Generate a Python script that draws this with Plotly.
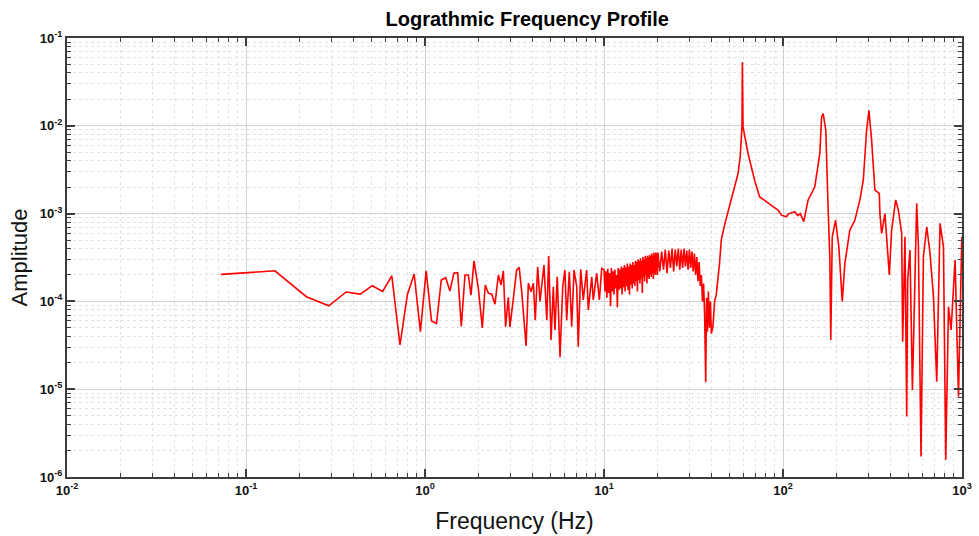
import plotly.graph_objects as go

# ---------------- data ----------------
# low-frequency part (Hz)
freq_low = [0.0725, 0.145, 0.2175, 0.290, 0.3625, 0.435, 0.5075, 0.58, 0.6525,
            0.725, 0.7975, 0.87, 0.9425, 1.015, 1.0875, 1.16, 1.2325, 1.305,
            1.3775, 1.45, 1.5225, 1.595]
amp_low = [2.03e-4, 2.23e-4, 1.13e-4, 8.9e-5, 1.28e-4, 1.21e-4, 1.51e-4, 1.30e-4,
           1.95e-4, 3.19e-5, 1.20e-4, 2.05e-4, 4.52e-5, 2.23e-4, 6.0e-5, 5.6e-5,
           1.75e-4, 1.86e-4, 1.31e-4, 2.09e-4, 2.12e-4, 5.2e-5]

# mid part, 1.6 - 10 Hz
freq_mid = [1.673, 1.746, 1.807, 1.878, 1.986, 2.09, 2.17, 2.26, 2.36, 2.46,
            2.57, 2.66, 2.74, 2.82, 2.92, 2.98, 3.11, 3.25, 3.36, 3.47,
            3.67, 3.78, 3.91, 4.03, 4.13, 4.26, 4.39, 4.62, 4.79, 4.91,
            5.06, 5.21, 5.32, 5.48, 5.68, 5.88, 6.05, 6.19, 6.40, 6.60,
            6.80, 7.04, 7.18, 7.41, 7.66, 8.00, 8.17, 8.54, 8.71, 9.10,
            9.42, 9.71]
amp_mid = [2.0e-4, 2.0e-4, 1.18e-4, 2.90e-4, 1.41e-4, 5.0e-5, 1.54e-4, 1.24e-4, 1.21e-4, 9.3e-5,
           2.0e-4, 1.54e-4, 2.23e-4, 5.15e-5, 1.11e-4, 5.1e-5, 1.04e-4, 2.28e-4, 2.44e-4, 1.29e-4,
           3.11e-5, 1.61e-4, 1.29e-4, 1.61e-4, 6.1e-5, 2.48e-4, 1.0e-4, 2.59e-4, 6.1e-5, 3.28e-4,
           3.64e-5, 1.47e-4, 4.73e-5, 1.91e-4, 2.31e-5, 1.47e-4, 2.28e-4, 6.1e-5, 2.18e-4, 5.15e-5,
           2.28e-4, 1.47e-4, 3.05e-5, 2.32e-4, 1.04e-4, 2.28e-4, 8.0e-5, 1.91e-4, 1.04e-4, 2.09e-4,
           1.04e-4, 2.38e-4]

# dense noisy band, 10 - 20 Hz
freq_band1 = [10.0, 10.125, 10.25, 10.375, 10.5, 10.625, 10.75, 10.875,
              11.0, 11.125, 11.25, 11.375, 11.5, 11.625, 11.75, 11.875,
              12.0, 12.125, 12.25, 12.375, 12.5, 12.625, 12.75, 12.875,
              13.0, 13.125, 13.25, 13.375, 13.5, 13.625, 13.75, 13.875,
              14.0, 14.125, 14.25, 14.375, 14.5, 14.625, 14.75, 14.875,
              15.0, 15.125, 15.25, 15.375, 15.5, 15.625, 15.75, 15.875,
              16.0, 16.125, 16.25, 16.375, 16.5, 16.625, 16.75, 16.875,
              17.0, 17.125, 17.25, 17.375, 17.5, 17.625, 17.75, 17.875,
              18.0, 18.125, 18.25, 18.375, 18.5, 18.625, 18.75, 18.875,
              19.0, 19.125, 19.25, 19.375, 19.5, 19.625, 19.75, 19.875, 20.0]
amp_band1 = [2.3e-4, 1.3e-4, 2.2e-4, 1.1e-4, 2.35e-4, 1.25e-4, 2.1e-4, 8.8e-5,
             2.4e-4, 1.3e-4, 2.2e-4, 1.2e-4, 2.3e-4, 1.4e-4, 2.0e-4, 8.6e-5,
             2.4e-4, 1.35e-4, 2.3e-4, 1.4e-4, 2.5e-4, 1.2e-4, 2.4e-4, 1.45e-4,
             2.6e-4, 1.3e-4, 2.45e-4, 1.5e-4, 2.7e-4, 1.35e-4, 2.5e-4, 1.2e-4,
             2.7e-4, 1.55e-4, 2.6e-4, 1.4e-4, 2.8e-4, 1.6e-4, 2.6e-4, 1.5e-4,
             2.9e-4, 1.7e-4, 2.8e-4, 1.3e-4, 3.0e-4, 1.75e-4, 2.9e-4, 1.6e-4,
             3.1e-4, 1.8e-4, 2.9e-4, 1.25e-4, 3.2e-4, 1.9e-4, 3.0e-4, 1.7e-4,
             3.3e-4, 2.0e-4, 3.1e-4, 1.6e-4, 3.3e-4, 1.9e-4, 3.2e-4, 1.8e-4,
             3.4e-4, 2.0e-4, 3.3e-4, 1.9e-4, 3.5e-4, 2.1e-4, 3.3e-4, 1.8e-4,
             3.6e-4, 2.1e-4, 3.4e-4, 2.0e-4, 3.6e-4, 2.2e-4, 3.5e-4, 2.0e-4, 3.6e-4]

# dense noisy band, 20.5 - 34.5 Hz
freq_band2 = [20.5, 21.0, 21.5, 22.0, 22.5, 23.0, 23.5, 24.0, 24.5,
              25.0, 25.5, 26.0, 26.5, 27.0, 27.5, 28.0, 28.5, 29.0, 29.5,
              30.0, 30.5, 31.0, 31.5, 32.0, 32.5, 33.0, 33.5, 34.0, 34.5]
amp_band2 = [2.2e-4, 3.7e-4, 2.3e-4, 3.9e-4, 2.1e-4, 3.8e-4, 2.4e-4, 4.0e-4, 2.2e-4,
             3.9e-4, 2.5e-4, 4.0e-4, 2.3e-4, 3.9e-4, 2.4e-4, 4.0e-4, 2.5e-4, 3.8e-4, 2.3e-4,
             3.9e-4, 2.4e-4, 3.7e-4, 2.2e-4, 3.5e-4, 2.0e-4, 3.2e-4, 1.7e-4, 2.8e-4, 1.5e-4]

# high-frequency part, 35 - 1000 Hz (resonances)
freq_high = [35.0, 35.5, 36.0, 36.5, 37.0, 37.4, 37.8, 38.3, 38.8, 39.3,
             39.8, 40.6, 41.5, 42.4, 44.2, 45.2, 47.2, 49.6, 52.5, 56.1,
             57.7, 59.0, 59.3, 59.8, 63.8, 69.4, 74.1, 82.5, 88.0, 93.9,
             98.0, 104.3, 108.0, 116.3, 121.0, 125.0, 130.6, 138.2, 150.5, 160.6,
             164.3, 167.7, 173.4, 178.8, 182.6, 184.9, 188.4, 196.6, 205.1, 214.3,
             221.6, 236.3, 252.1, 268.9, 280.9, 293.1, 302.0, 312.6, 326.2, 345.1,
             347.9, 355.6, 371.0, 392.6, 404.5, 425.9, 441.0, 460.3, 466.2, 480.2,
             491.0, 497.2, 512.2, 528.3, 558.4, 570.8, 590.2, 608.8, 635.3, 662.9,
             692.6, 722.7, 754.0, 787.7, 811.5, 840.3, 869.0, 914.9, 955.9, 997.5]
amp_high = [2.0e-4, 1.0e-4, 1.6e-4, 7.0e-5, 1.2e-5, 1.1e-4, 4.5e-5, 1.3e-4, 5.0e-5, 1.0e-4,
            4.3e-5, 5.2e-5, 1.0e-4, 1.2e-4, 2.7e-4, 5.0e-4, 7.5e-4, 1.1e-3, 1.8e-3, 2.86e-3,
            4.5e-3, 9.7e-3, 5.3e-2, 9.7e-3, 4.84e-3, 2.40e-3, 1.55e-3, 1.31e-3, 1.2e-3, 1.10e-3,
            9.6e-4, 9.2e-4, 1.0e-3, 1.05e-3, 9.5e-4, 1.0e-3, 8.1e-4, 1.43e-3, 2.02e-3, 4.84e-3,
            1.26e-2, 1.38e-2, 8.9e-3, 1.1e-3, 3.23e-4, 3.64e-5, 5.45e-4, 8.4e-4, 4.19e-4, 1.0e-4,
            2.71e-4, 6.49e-4, 8.4e-4, 1.43e-3, 2.40e-3, 8.9e-3, 1.5e-2, 6.86e-3, 1.85e-3, 1.70e-3,
            1.0e-3, 5.95e-4, 1.0e-3, 2.0e-4, 6.49e-4, 1.43e-3, 1.10e-3, 5.95e-4, 3.48e-5, 5.45e-4,
            4.88e-6, 1.75e-4, 3.84e-4, 9.8e-6, 1.31e-3, 4.19e-4, 1.71e-6, 3.23e-4, 7.08e-4, 3.52e-4,
            1.13e-4, 1.22e-5, 7.74e-4, 4.19e-4, 1.57e-6, 8.7e-5, 4.73e-5, 2.96e-4, 8.2e-6, 5.45e-4]

# tick labels
x_tick_vals = [0.01, 0.1, 1, 10, 100, 1000]
x_tick_text = ["10<sup>-2</sup>", "10<sup>-1</sup>", "10<sup>0</sup>",
               "10<sup>1</sup>", "10<sup>2</sup>", "10<sup>3</sup>"]
y_tick_vals = [1e-6, 1e-5, 1e-4, 1e-3, 1e-2, 1e-1]
y_tick_text = ["10<sup>-6</sup>", "10<sup>-5</sup>", "10<sup>-4</sup>",
               "10<sup>-3</sup>", "10<sup>-2</sup>", "10<sup>-1</sup>"]

freq = freq_low + freq_mid + freq_band1 + freq_band2 + freq_high
amp = amp_low + amp_mid + amp_band1 + amp_band2 + amp_high

# ---------------- figure ----------------
FONT = "Liberation Sans, Arial, sans-serif"
AX = "#3c3c3c"

fig = go.Figure(
    go.Scatter(x=freq, y=amp, mode="lines",
               line=dict(color="#ff0000", width=1.6),
               showlegend=False)
)

axis_common = dict(
    type="log", tickmode="array", automargin=False,
    showline=True, linecolor=AX, linewidth=2, mirror="ticks",
    ticks="inside", ticklen=8, tickwidth=1.5, tickcolor=AX,
    showgrid=True, gridcolor="#d2d2d2", gridwidth=1, zeroline=False,
    minor=dict(dtick="D1", ticks="inside", ticklen=4, tickwidth=1, tickcolor=AX,
               showgrid=True, gridcolor="#e2e2e2", griddash="dot", gridwidth=1),
    tickfont=dict(family=FONT, size=13, color="#111111", weight="bold"),
)

fig.update_xaxes(**axis_common, range=[-2, 3],
                 tickvals=x_tick_vals, ticktext=x_tick_text,
                 title=dict(text="Frequency (Hz)", standoff=16,
                            font=dict(family=FONT, size=23, color="#111111")))
fig.update_yaxes(**axis_common, range=[-6, -1],
                 tickvals=y_tick_vals, ticktext=y_tick_text,
                 title=dict(text="Amplitude", standoff=6,
                            font=dict(family=FONT, size=22, color="#111111")))

fig.update_layout(
    width=979, height=536,
    margin=dict(l=67, r=17, t=38, b=59),
    paper_bgcolor="white", plot_bgcolor="white",
    title=dict(text="Lograthmic Frequency Profile", x=0.5385, xanchor="center",
               y=0.965, yanchor="middle",
               font=dict(family=FONT, size=20, color="#000000", weight="bold")),
)

fig.write_html("out.html", config={"displayModeBar": False},
               post_script="document.body.style.margin='0';document.body.style.padding='0';")
